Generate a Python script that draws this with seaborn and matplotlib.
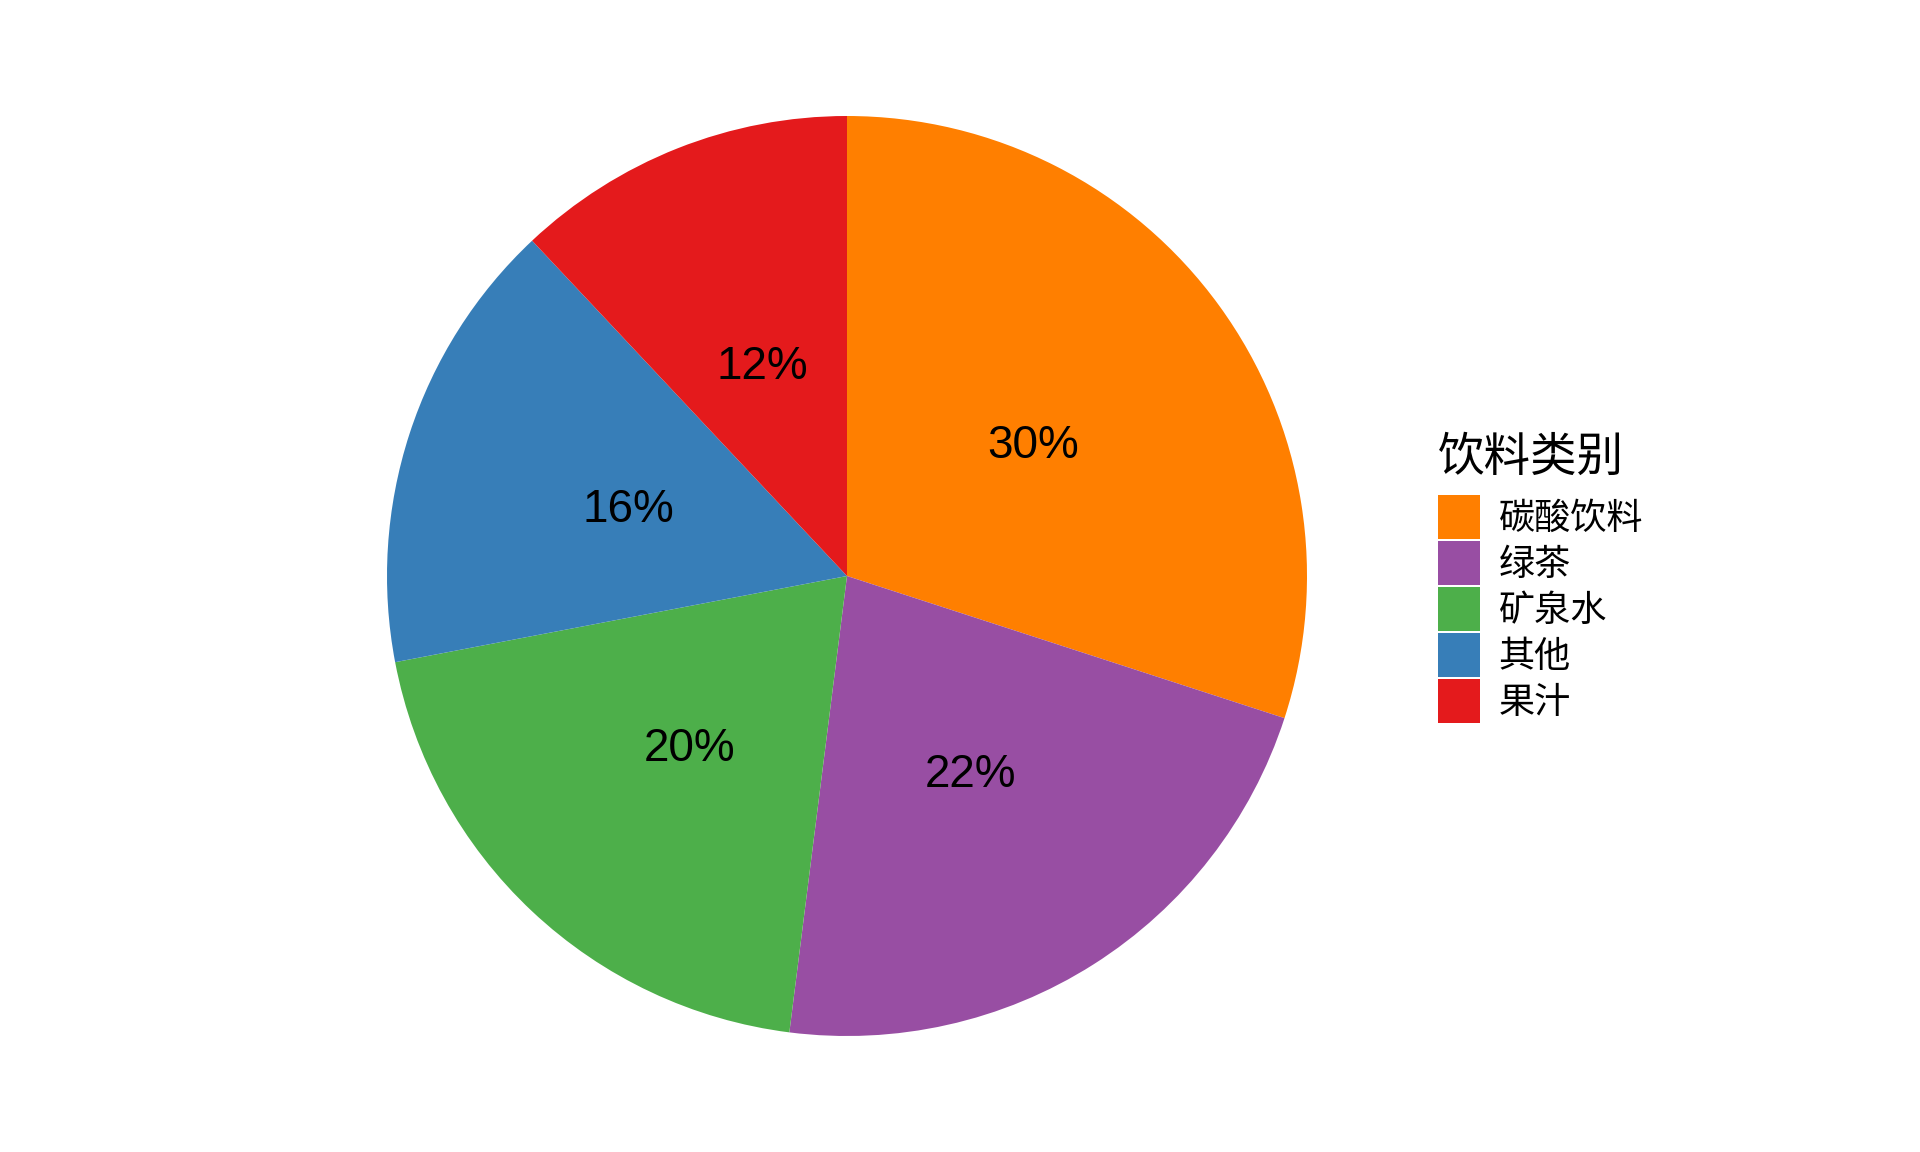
import matplotlib
matplotlib.use("Agg")
import matplotlib.pyplot as plt
import seaborn as sns

# Beverage share data
categories = ["碳酸饮料", "绿茶", "矿泉水", "其他", "果汁"]
shares = [30, 22, 20, 16, 12]
legend_title = "饮料类别"

sns.set_theme(style="white")
plt.rcParams['font.family'] = ['Noto Sans CJK SC', 'DejaVu Sans']
plt.rcParams['text.color'] = 'black'

set1 = sns.color_palette("Set1")
# orange, purple, green, blue, red
colors = [set1[4], set1[3], set1[2], set1[1], set1[0]]

fig = plt.figure(figsize=(19.2, 11.52), dpi=100)
W, H = 1920, 1152
cx, cy, r = 847, 576, 460
ax = fig.add_axes([(cx - r) / W, (H - cy - r) / H, 2 * r / W, 2 * r / H])

wedges, texts, autotexts = ax.pie(
    shares, colors=colors, startangle=90, counterclock=False,
    autopct=lambda p: f"{p:.0f}%", pctdistance=0.5,
    textprops=dict(fontsize=33, family=['Liberation Sans', 'DejaVu Sans'], color='black'),
    wedgeprops=dict(linewidth=0))
for t in autotexts:
    t.set_va('center_baseline')
ax.set_xlim(-1, 1)
ax.set_ylim(-1, 1)
ax.set_aspect('equal')
ax.axis('off')

leg = fig.legend(wedges, categories, title=legend_title,
                 loc='upper left', bbox_to_anchor=(1438 / W, 1 - 433 / H),
                 frameon=False, borderpad=0, borderaxespad=0,
                 fontsize=26, title_fontsize=33.5,
                 handlelength=1.17, handleheight=1.46,
                 labelspacing=0.08, handletextpad=0.51,
                 alignment='left')
leg._legend_box.sep = 10
for t in leg.get_texts():
    t.set_color('black')
leg.get_title().set_color('black')

fig.savefig("out.png", dpi=100)
